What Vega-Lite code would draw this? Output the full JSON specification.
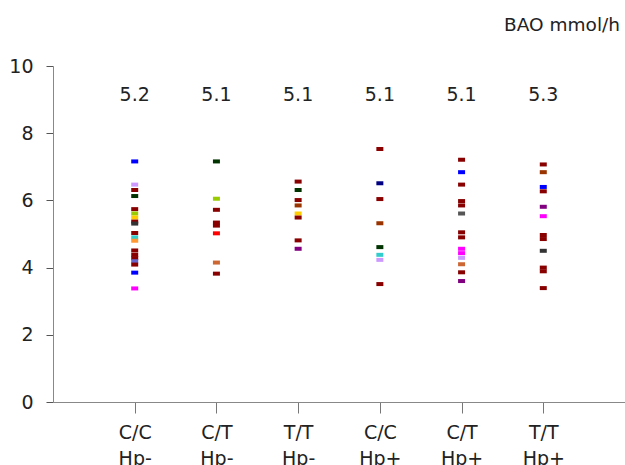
{
  "$schema": "https://vega.github.io/schema/vega-lite/v6.json",
  "autosize": {"type": "none"},
  "padding": {"left": 53, "top": 66, "right": 0, "bottom": 63},
  "width": 572,
  "height": 336,
  "background": "white",
  "config": {"view": {"stroke": null}, "font": "DejaVu Sans"},
  "title": {"text": "BAO mmol/h", "anchor": "end", "frame": "group", "fontSize": 18.5, "fontWeight": "normal", "color": "#222222", "offset": 23, "dx": -5},
  "datasets": {
    "pts": [
      {"g": "C/C Hp-", "v": 7.16, "c": "blue"},
      {"g": "C/C Hp-", "v": 6.47, "c": "lavender"},
      {"g": "C/C Hp-", "v": 6.31, "c": "darkred"},
      {"g": "C/C Hp-", "v": 6.13, "c": "darkgreen"},
      {"g": "C/C Hp-", "v": 5.74, "c": "darkred"},
      {"g": "C/C Hp-", "v": 5.61, "c": "yellowgreen"},
      {"g": "C/C Hp-", "v": 5.49, "c": "gold"},
      {"g": "C/C Hp-", "v": 5.37, "c": "darkred"},
      {"g": "C/C Hp-", "v": 5.31, "c": "darkgray"},
      {"g": "C/C Hp-", "v": 5.03, "c": "darkred"},
      {"g": "C/C Hp-", "v": 4.90, "c": "turquoise"},
      {"g": "C/C Hp-", "v": 4.80, "c": "orange"},
      {"g": "C/C Hp-", "v": 4.51, "c": "darkred"},
      {"g": "C/C Hp-", "v": 4.38, "c": "darkred"},
      {"g": "C/C Hp-", "v": 4.28, "c": "darkred"},
      {"g": "C/C Hp-", "v": 4.19, "c": "slateblue"},
      {"g": "C/C Hp-", "v": 4.09, "c": "darkred"},
      {"g": "C/C Hp-", "v": 3.85, "c": "blue"},
      {"g": "C/C Hp-", "v": 3.38, "c": "magenta"},
      {"g": "C/T Hp-", "v": 7.16, "c": "darkgreen"},
      {"g": "C/T Hp-", "v": 6.05, "c": "yellowgreen"},
      {"g": "C/T Hp-", "v": 5.72, "c": "darkred"},
      {"g": "C/T Hp-", "v": 5.34, "c": "darkred"},
      {"g": "C/T Hp-", "v": 5.25, "c": "darkred"},
      {"g": "C/T Hp-", "v": 5.02, "c": "red"},
      {"g": "C/T Hp-", "v": 4.15, "c": "sienna"},
      {"g": "C/T Hp-", "v": 3.82, "c": "darkred"},
      {"g": "T/T Hp-", "v": 6.56, "c": "darkred"},
      {"g": "T/T Hp-", "v": 6.31, "c": "darkgreen"},
      {"g": "T/T Hp-", "v": 6.01, "c": "darkred"},
      {"g": "T/T Hp-", "v": 5.85, "c": "rust"},
      {"g": "T/T Hp-", "v": 5.61, "c": "gold"},
      {"g": "T/T Hp-", "v": 5.49, "c": "darkred"},
      {"g": "T/T Hp-", "v": 4.81, "c": "darkred"},
      {"g": "T/T Hp-", "v": 4.56, "c": "purple"},
      {"g": "C/C Hp+", "v": 7.53, "c": "darkred"},
      {"g": "C/C Hp+", "v": 6.51, "c": "navy"},
      {"g": "C/C Hp+", "v": 6.04, "c": "darkred"},
      {"g": "C/C Hp+", "v": 5.32, "c": "rust"},
      {"g": "C/C Hp+", "v": 4.61, "c": "darkgreen"},
      {"g": "C/C Hp+", "v": 4.38, "c": "turquoise"},
      {"g": "C/C Hp+", "v": 4.23, "c": "lavender"},
      {"g": "C/C Hp+", "v": 3.51, "c": "darkred"},
      {"g": "C/T Hp+", "v": 7.21, "c": "darkred"},
      {"g": "C/T Hp+", "v": 6.84, "c": "blue"},
      {"g": "C/T Hp+", "v": 6.47, "c": "darkred"},
      {"g": "C/T Hp+", "v": 5.98, "c": "darkred"},
      {"g": "C/T Hp+", "v": 5.85, "c": "darkred"},
      {"g": "C/T Hp+", "v": 5.61, "c": "gray"},
      {"g": "C/T Hp+", "v": 5.05, "c": "darkred"},
      {"g": "C/T Hp+", "v": 4.90, "c": "darkred"},
      {"g": "C/T Hp+", "v": 4.56, "c": "magenta"},
      {"g": "C/T Hp+", "v": 4.43, "c": "magenta"},
      {"g": "C/T Hp+", "v": 4.29, "c": "lavender"},
      {"g": "C/T Hp+", "v": 4.10, "c": "sienna"},
      {"g": "C/T Hp+", "v": 3.86, "c": "darkred"},
      {"g": "C/T Hp+", "v": 3.60, "c": "purple"},
      {"g": "T/T Hp+", "v": 7.07, "c": "darkred"},
      {"g": "T/T Hp+", "v": 6.84, "c": "rust"},
      {"g": "T/T Hp+", "v": 6.40, "c": "blue"},
      {"g": "T/T Hp+", "v": 6.27, "c": "darkred"},
      {"g": "T/T Hp+", "v": 5.81, "c": "purple"},
      {"g": "T/T Hp+", "v": 5.53, "c": "magenta"},
      {"g": "T/T Hp+", "v": 4.97, "c": "darkred"},
      {"g": "T/T Hp+", "v": 4.85, "c": "darkred"},
      {"g": "T/T Hp+", "v": 4.50, "c": "darkgray"},
      {"g": "T/T Hp+", "v": 4.00, "c": "darkred"},
      {"g": "T/T Hp+", "v": 3.89, "c": "darkred"},
      {"g": "T/T Hp+", "v": 3.39, "c": "darkred"}
    ],
    "means": [
      {"g": "C/C Hp-", "m": "5.2"},
      {"g": "C/T Hp-", "m": "5.1"},
      {"g": "T/T Hp-", "m": "5.1"},
      {"g": "C/C Hp+", "m": "5.1"},
      {"g": "C/T Hp+", "m": "5.1"},
      {"g": "T/T Hp+", "m": "5.3"}
    ]
  },
  "encoding": {
    "x": {
      "field": "g",
      "type": "nominal",
      "scale": {"type": "point", "domain": ["C/C Hp-", "C/T Hp-", "T/T Hp-", "C/C Hp+", "C/T Hp+", "T/T Hp+"], "padding": 1},
      "axis": {
        "title": null,
        "labelExpr": "split(datum.label, ' ')",
        "labelAngle": 0,
        "labelFontSize": 19,
        "labelLineHeight": 26,
        "labelColor": "#222222",
        "tickSize": 11,
        "labelPadding": 10,
        "domainColor": "#888888",
        "tickColor": "#777777",
        "grid": false
      }
    }
  },
  "layer": [
    {
      "data": {"name": "pts"},
      "mark": {"type": "tick", "size": 7, "thickness": 4, "opacity": 1},
      "encoding": {
        "y": {
          "field": "v",
          "type": "quantitative",
          "scale": {"domain": [0, 10], "nice": false},
          "axis": {
            "title": null,
            "values": [0, 2, 4, 6, 8, 10],
            "grid": false,
            "tickSize": 7,
            "labelPadding": 13,
            "labelFontSize": 19,
            "labelColor": "#222222",
            "domainColor": "#888888",
            "tickColor": "#555555"
          }
        },
        "color": {
          "field": "c",
          "type": "nominal",
          "legend": null,
          "scale": {
            "domain": ["darkred", "blue", "lavender", "darkgreen", "yellowgreen", "gold", "darkgray", "turquoise", "orange", "slateblue", "magenta", "red", "sienna", "rust", "navy", "purple", "gray"],
            "range": ["#880000", "#0000FF", "#CC99FF", "#003300", "#99CC00", "#FFCC00", "#333333", "#33CCCC", "#FF9933", "#6666CC", "#FF00FF", "#FF0000", "#CC6633", "#993300", "#000080", "#800080", "#555555"]
          }
        }
      }
    },
    {
      "data": {"name": "means"},
      "mark": {"type": "text", "fontSize": 19, "color": "#222222", "baseline": "middle"},
      "encoding": {
        "y": {"datum": 9.15, "type": "quantitative"},
        "text": {"field": "m"}
      }
    }
  ]
}
